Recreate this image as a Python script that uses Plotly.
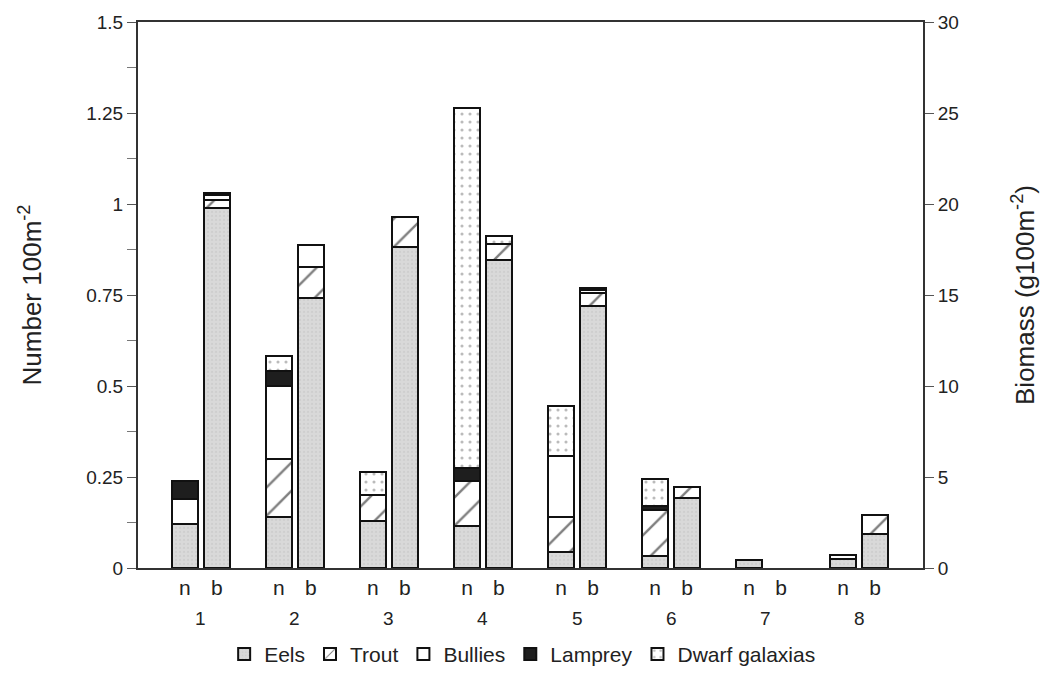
import plotly.graph_objects as go

sites = [1, 2, 3, 4, 5, 6, 7, 8]
site_labels = ["1", "2", "3", "4", "5", "6", "7", "8"]
species = ["Eels", "Trout", "Bullies", "Lamprey", "Dwarf galaxias"]

# Number 100m^-2 (left axis, "n" bars)
eels_n = [0.12, 0.14, 0.13, 0.115, 0.043, 0.034, 0.022, 0.025]
trout_n = [0, 0.16, 0.07, 0.125, 0.097, 0.125, 0, 0]
bullies_n = [0.07, 0.20, 0, 0, 0.167, 0, 0, 0.01]
lamprey_n = [0.05, 0.04, 0, 0.035, 0, 0.011, 0, 0]
dwarf_n = [0, 0.043, 0.063, 0.99, 0.139, 0.075, 0, 0]

# Biomass g100m^-2 (right axis, "b" bars)
eels_b = [19.8, 14.85, 17.65, 16.9, 14.4, 3.85, 0, 1.87]
trout_b = [0.4, 1.7, 1.65, 0.9, 0.7, 0.62, 0, 1.03]
bullies_b = [0.3, 1.2, 0, 0, 0.15, 0, 0, 0]
lamprey_b = [0.08, 0, 0, 0, 0.15, 0, 0, 0]
dwarf_b = [0, 0, 0, 0.45, 0, 0, 0, 0]

left_ticks = [0, 0.25, 0.5, 0.75, 1, 1.25, 1.5]
left_ticktext = ["0", "0.25", "0.5", "0.75", "1", "1.25", "1.5"]
right_ticks = [0, 5, 10, 15, 20, 25, 30]

n_series = [eels_n, trout_n, bullies_n, lamprey_n, dwarf_n]
b_series = [eels_b, trout_b, bullies_b, lamprey_b, dwarf_b]

styles = {
    "Eels": dict(color="#d9d9d9", pattern=dict(shape=".", fgcolor="#c4c4c4", size=4, solidity=0.25)),
    "Trout": dict(color="white", pattern=dict(shape="/", fgcolor="#000000", size=20, solidity=0.12)),
    "Bullies": dict(color="white"),
    "Lamprey": dict(color="#1e1e1e"),
    "Dwarf galaxias": dict(color="white", pattern=dict(shape=".", fgcolor="#777777", size=8, solidity=0.12)),
}

OFF = 0.17
W = 0.28
xn = [s - OFF for s in sites]
xb = [s + OFF for s in sites]

def nz(v):
    return [None if a == 0 else a for a in v]

fig = go.Figure()
for name, vn in zip(species, n_series):
    st = styles[name]
    fig.add_trace(go.Bar(
        x=xn, y=nz(vn), name=name, width=W, legendgroup=name, showlegend=True,
        marker=dict(color=st["color"], pattern=st.get("pattern"),
                    line=dict(color="#111111", width=2)),
        yaxis="y",
    ))
for name, vb in zip(species, b_series):
    st = styles[name]
    fig.add_trace(go.Bar(
        x=xb, y=nz(vb), name=name, width=W, legendgroup=name, showlegend=False,
        marker=dict(color=st["color"], pattern=st.get("pattern"),
                    line=dict(color="#111111", width=2)),
        yaxis="y2",
    ))

tickvals = []
ticktext = []
for s in sites:
    tickvals += [s - OFF, s + OFF]
    ticktext += ["n", "b"]

for s, lab in zip(sites, site_labels):
    fig.add_annotation(x=s, y=0, xref="x", yref="paper", text=lab, showarrow=False,
                       yanchor="top", yshift=-38, font=dict(size=19, color="#222"))

fig.update_layout(
    width=1047, height=693,
    margin=dict(l=138, r=122, t=18, b=125),
    barmode="stack",
    plot_bgcolor="white", paper_bgcolor="white",
    font=dict(family="Liberation Sans, Arial, sans-serif", color="#222", size=19),
    xaxis=dict(range=[0.332, 8.679], tickvals=tickvals, ticktext=ticktext,
               showline=True, linecolor="#333", linewidth=2, mirror=True,
               ticks="", showgrid=False, zeroline=False,
               tickfont=dict(size=21)),
    yaxis=dict(range=[0, 1.5], tickvals=left_ticks, ticktext=left_ticktext,
               showline=True, linecolor="#333", linewidth=2,
               ticks="outside", ticklen=9, tickcolor="#555",
               minor=dict(dtick=0.125, ticks="outside", ticklen=9, tickcolor="#777"),
               showgrid=False, zeroline=False, tickfont=dict(size=19),
               title=dict(text="Number 100m<sup>-2</sup>", font=dict(size=26), standoff=37)),
    yaxis2=dict(range=[0, 30], tickvals=right_ticks, overlaying="y", side="right",
                showline=True, linecolor="#333", linewidth=2,
                ticks="outside", ticklen=9, tickcolor="#555",
                showgrid=False, zeroline=False, tickfont=dict(size=19),
                title=dict(text="Biomass (g100m<sup>-2</sup>)", font=dict(size=26), standoff=58)),
    legend=dict(orientation="h", x=0.49, xanchor="center", y=-0.158, yanchor="middle",
                traceorder="normal", font=dict(size=21), itemwidth=30,
                bgcolor="rgba(0,0,0,0)"),
    bargap=0,
)

fig.write_html("out.html")
